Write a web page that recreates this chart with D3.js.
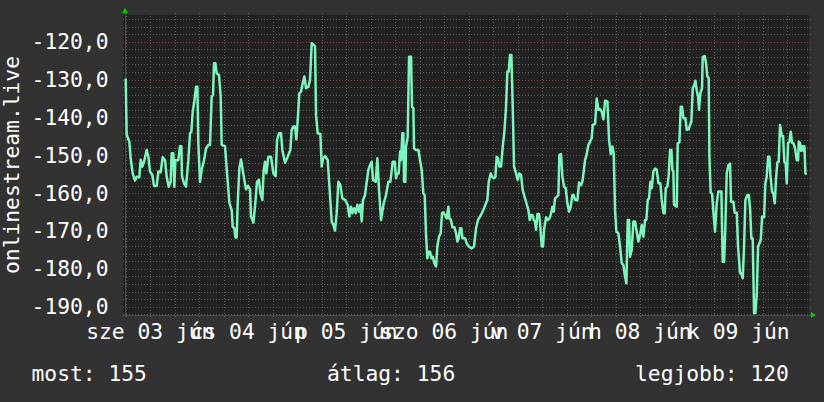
<!DOCTYPE html>
<html>
<head>
<meta charset="utf-8">
<script src="https://cdn.jsdelivr.net/npm/d3@7"></script>
<style>
  body { margin: 0; background: #323232; }
  svg { display: block; }
  text { font-family: "DejaVu Sans Mono", monospace; fill: #ffffff; }
</style>
</head>
<body>
<div id="chart"></div>
<script>
// Graph size
var width = 824;
var height = 402;

// hours since 2020-06-03 00:00 and measured values
var hours = [
  5.97, 6.21, 6.86, 7.19, 7.68, 8.25, 8.66, 9.31, 9.64, 10.05, 10.46, 11.11, 11.52, 11.93, 12.50,
  12.91, 13.56, 13.97, 14.54, 15.03, 15.60, 16.01, 16.50, 16.99, 17.23, 17.64, 17.88, 18.13, 18.86,
  19.27, 19.60, 19.76, 20.25, 20.74, 21.31, 21.72, 22.05, 22.38, 22.78, 23.19, 23.52, 23.76, 24.17,
  24.58, 25.15, 25.64, 26.21, 26.62, 27.03, 27.36, 27.60, 27.93, 28.25, 28.82, 29.23, 29.48, 30.29,
  30.86, 31.35, 31.93, 32.17, 32.58, 32.82, 33.15, 33.40, 33.80, 34.21, 34.62, 34.95, 35.44, 35.93,
  36.42, 36.66, 37.23, 37.64,
  38.13, 38.62, 38.95, 39.44, 39.77, 40.09, 40.42, 40.91, 41.56, 42.13, 42.70, 43.03, 43.52, 44.01,
  44.33, 44.99, 45.64, 46.29, 46.62, 47.03, 47.44, 47.76, 48.09, 48.50, 48.91, 49.32, 49.72, 50.13,
  50.70, 51.11, 51.52, 52.01, 52.34, 52.58, 52.99, 53.64, 53.97, 54.29, 54.78, 55.44, 55.84, 56.42,
  56.82, 57.23, 57.64, 58.05, 58.54, 59.03, 59.68, 60.34, 60.74, 61.15, 61.48, 61.89, 62.30, 62.70,
  63.11, 63.44, 63.76, 64.09, 64.58, 64.99, 65.40, 65.80, 66.21, 66.54, 67.19, 67.60, 68.01, 68.50,
  68.83, 69.15, 69.72, 70.29, 70.78,
  71.36, 71.85, 72.17, 72.50, 72.83, 73.15, 73.40, 73.72, 73.97, 74.13, 74.46, 74.62, 75.03, 75.36,
  75.85, 76.09, 76.42, 76.58, 77.07, 77.64, 78.05, 78.46, 78.86, 79.19, 79.52, 79.84, 80.17, 80.50,
  80.82, 81.15, 81.56, 81.97, 82.29, 82.70, 83.11, 83.44, 83.76, 84.17, 84.58, 84.99, 85.23, 85.64,
  85.97, 86.46, 86.87, 87.19, 87.52, 87.85, 88.17, 88.42, 89.07, 89.48, 89.97, 90.70, 91.27, 91.76,
  92.25, 92.74, 93.23, 93.72, 94.21, 94.54, 94.87, 95.36, 95.68, 96.09, 96.50, 96.82, 97.15, 97.48,
  97.89, 98.30, 98.70, 99.11, 99.44, 99.77, 100.09, 100.42, 100.75, 101.07, 101.56, 101.97, 102.38,
  102.79, 103.19, 103.52, 104.01, 104.58,
  104.91, 105.23, 105.56, 105.89, 106.21, 106.46, 106.78, 107.19, 107.44, 107.85, 108.17, 108.42,
  108.91, 109.32, 109.72, 110.05, 110.46, 110.79, 111.11, 111.52, 111.93, 112.17, 112.58, 112.91,
  113.32, 113.73, 114.13, 114.54, 114.95, 115.36, 115.68, 116.01, 116.58, 116.99, 117.48, 117.81,
  118.13, 118.46, 118.87, 119.27, 119.68, 120.09, 120.34, 120.91, 121.32, 121.73, 122.13, 122.54,
  122.95, 123.36, 123.93, 124.34, 124.75, 125.15, 125.48, 125.81, 126.13, 126.62, 127.03, 127.44,
  127.85, 128.25, 128.58, 128.91, 129.23, 129.48, 129.89, 130.29, 130.70, 131.11, 131.52, 131.93,
  132.34, 132.74, 133.15, 133.48, 133.81, 134.13, 134.46, 134.79, 135.19, 135.60, 136.01, 136.42,
  136.91,
  137.24, 137.64, 137.97, 138.21, 138.62, 138.95, 139.28, 139.60, 139.85, 140.09, 140.25, 140.91,
  141.15, 141.56, 141.89, 142.21, 142.54, 143.03, 143.36, 143.85, 144.17, 144.50, 144.83, 145.23,
  145.48, 145.80, 146.13, 146.38, 146.70, 147.11, 147.27, 147.76, 148.09, 148.41, 148.74, 148.91,
  149.23, 149.56, 149.89, 150.29, 150.70, 151.11, 151.85, 152.17, 152.50, 152.82, 153.15, 153.56,
  153.97, 154.21, 154.78, 155.11, 155.60, 155.93, 156.42, 156.74, 157.07, 157.40, 157.72, 158.21,
  158.54, 158.87, 159.19, 159.52, 159.85, 160.17, 160.50, 160.83, 161.15, 161.48, 161.81, 162.30,
  162.62, 162.95, 163.28, 163.60, 163.85, 164.25, 164.58, 164.91, 165.23, 165.56, 165.89, 166.21,
  166.62, 166.95, 167.27, 167.60, 167.85, 168.17, 168.50, 168.83, 169.16, 169.48, 169.89, 170.30,
  170.63, 170.79, 171.11, 171.36, 171.60, 171.93, 172.17, 172.42, 172.75
];
var values = [
  -129.7, -144.6, -146.4, -150.8, -154.8, -156.7, -155.7, -155.8, -151.2, -153.0, -151.7, -148.6, -150.4, -154.3, -155.2,
  -158.1, -158.1, -154.3, -154.5, -150.5, -151.3, -155.7, -158.3, -157.0, -149.5, -149.5, -158.3, -151.3, -151.3,
  -147.6, -147.6, -155.5, -157.4, -158.3, -151.3, -144.2, -143.8, -138.5, -135.8, -131.9, -131.9, -146.8, -157.0,
  -153.9, -151.3, -148.2, -147.3, -147.3, -134.5, -134.1, -125.7, -125.7, -128.4, -128.8, -134.5, -147.3, -147.6,
  -155.7, -162.5, -164.5, -168.9, -169.3, -171.7, -171.7, -162.7, -153.5, -151.1, -153.9, -156.1, -159.0, -158.1,
  -159.0, -166.2, -167.8, -163.6,
  -157.0, -156.5, -160.0, -161.8, -153.9, -151.7, -154.8, -150.4, -150.4, -154.8, -155.5, -146.0, -144.2, -144.2,
  -148.6, -152.0, -150.4, -148.6, -143.3, -142.4, -142.4, -145.8, -140.7, -133.6, -133.2, -131.0, -129.2, -132.3,
  -131.9, -130.1, -120.4, -120.8, -121.3, -139.4, -144.2, -144.4, -153.0, -150.8, -150.2, -151.3, -157.9, -167.5,
  -168.4, -169.9, -165.3, -157.0, -157.9, -161.4, -161.8, -163.1, -166.2, -163.6, -165.3, -164.0, -165.3, -163.1,
  -164.9, -163.1, -167.5, -161.8, -160.5, -157.0, -153.9, -152.6, -151.7, -156.5, -157.0, -150.8, -159.2, -167.1,
  -164.9, -162.7, -160.5, -157.0, -157.0,
  -151.7, -151.7, -156.1, -154.8, -154.8, -149.0, -151.3, -144.2, -144.2, -157.0, -157.0, -147.7, -145.1, -124.0,
  -124.0, -137.2, -137.6, -148.2, -148.6, -148.6, -151.3, -153.9, -160.1, -160.5, -171.1, -177.2, -175.5, -175.5,
  -177.2, -176.8, -178.5, -179.4, -174.1, -171.5, -170.6, -165.3, -165.1, -165.8, -166.7, -163.6, -166.7, -167.1,
  -169.0, -169.0, -170.6, -172.8, -171.9, -169.3, -169.3, -171.9, -171.9, -173.3, -174.1, -174.6, -174.1, -169.3,
  -167.1, -166.2, -165.2, -164.0, -162.7, -161.8, -157.0, -154.8, -155.7, -156.1, -155.7, -150.4, -150.8, -153.0,
  -153.0, -147.7, -143.8, -137.2, -127.9, -127.9, -123.5, -123.5, -137.2, -153.0, -154.8, -156.5, -154.8,
  -155.2, -159.2, -160.5, -162.3, -164.5,
  -167.1, -165.8, -165.8, -167.1, -167.5, -169.7, -165.5, -165.5, -168.0, -174.1, -174.1, -169.6,
  -166.4, -167.1, -166.7, -165.8, -163.6, -164.9, -161.4, -161.0, -160.5, -149.9, -149.7, -155.7,
  -158.3, -158.7, -162.7, -164.9, -163.6, -160.5, -160.5, -161.8, -161.9, -157.2, -157.9, -157.0,
  -154.3, -151.3, -149.7, -147.3, -146.4, -145.5, -142.0, -141.7, -135.0, -138.0, -137.8, -138.5,
  -140.5, -135.6, -135.8, -146.0, -149.7, -147.7, -149.5, -164.5, -170.2, -170.6, -174.1, -178.5,
  -179.0, -182.1, -183.8, -167.1, -167.1, -176.8, -175.0, -167.5, -167.5, -170.2, -172.8, -171.1,
  -168.4, -171.5, -167.1, -167.1, -161.8, -161.4, -157.0, -158.7, -154.3, -153.5, -153.8, -157.4,
  -157.4,
  -161.8, -165.3, -165.3, -158.7, -158.3, -155.2, -148.6, -148.6, -153.9, -154.3, -163.1, -163.6,
  -146.8, -146.6, -137.2, -137.2, -140.2, -140.2, -143.3, -143.1, -142.0, -141.1, -132.3, -131.4,
  -130.3, -132.8, -134.5, -138.0, -133.6, -132.3, -124.0, -123.8, -125.7, -129.2, -129.6, -150.4,
  -159.9, -160.1, -164.9, -170.2, -162.7, -159.6, -159.6, -178.1, -178.1, -168.9, -154.8, -152.6,
  -152.2, -162.3, -162.3, -165.2, -165.2, -174.1, -181.2, -181.2, -182.5, -174.1, -161.8, -160.5,
  -160.5, -164.0, -172.0, -172.0, -191.7, -191.7, -186.9, -174.1, -173.3, -172.4, -166.2, -166.4,
  -157.4, -155.7, -150.4, -150.4, -155.2, -159.6, -160.1, -162.7, -156.1, -151.9, -151.7, -142.0,
  -144.9, -144.9, -151.7, -152.2, -157.4, -146.8, -146.4, -143.8, -146.7, -146.8, -148.2, -151.3,
  -151.3, -146.4, -146.8, -148.8, -147.6, -148.8, -147.6, -154.8, -155.0
];

var yTicks = [-190, -180, -170, -160, -150, -140, -130, -120];
var yTitle = "onlinestream.live";
var legendLabels = ["most:", "átlag:", "legjobb:"];
var legendValues = [155, 156, 120];

// Hungarian locale for the day labels
var huTime = d3.timeFormatLocale({
  dateTime: "%Y. %B %-e. %X", date: "%Y. %m. %d.", time: "%H:%M:%S",
  periods: ["de.", "du."],
  days: ["vasárnap", "hétfő", "kedd", "szerda", "csütörtök", "péntek", "szombat"],
  shortDays: ["v", "h", "k", "sze", "cs", "p", "szo"],
  months: ["január", "február", "március", "április", "május", "június", "július", "augusztus", "szeptember", "október", "november", "december"],
  shortMonths: ["jan", "febr", "márc", "ápr", "máj", "jún", "júl", "aug", "szept", "okt", "nov", "dec"]
});
var dayFormat = huTime.format("%a %d %b");
var huNum = d3.formatLocale({ decimal: ",", thousands: " ", grouping: [3], currency: ["", " Ft"], minus: "-" });
var yFormat = huNum.format(".1f");

var day0 = new Date(2020, 5, 3);
function hourToDate(h) { return new Date(day0.getTime() + h * 3600e3); }

var data = hours.map(function(h, i) { return { t: hourToDate(h), v: values[i] }; });

var svg = d3.select("#chart")
  .append("svg")
  .attr("width", width)
  .attr("height", height);

svg.append("rect").attr("width", width).attr("height", height).attr("fill", "#323232");

// plot box in pixels (window.top is reserved, so prefixed names)
var plotL = 125, plotR = 809, plotT = 15, plotB = 315;

var x = d3.scaleTime()
  .domain([hourToDate(5.8), hourToDate(173.3)])
  .range([plotL, plotR]);

var y = d3.scaleLinear()
  .domain([-192.2, -112.95])
  .range([plotB, plotT]);

// plot background
svg.append("rect")
  .attr("x", plotL - 2).attr("y", plotT)
  .attr("width", plotR - plotL + 2).attr("height", plotB - plotT + 1)
  .attr("fill", "#222222");

// horizontal grid, minor every 2, major every 10
var hGrid = d3.range(-192, -112, 2);
svg.append("g").selectAll("line")
  .data(hGrid)
  .enter().append("line")
  .attr("x1", plotL - 2).attr("x2", plotR + 2)
  .attr("y1", function(d) { return Math.round(y(d)) + 0.5; })
  .attr("y2", function(d) { return Math.round(y(d)) + 0.5; })
  .attr("stroke", function(d) { return d % 10 === 0 ? "#8c3a3a" : "#5c5c5c"; })
  .attr("stroke-dasharray", "1,2");

// vertical grid, minor every 6 h, major at midnight
var vGrid = d3.timeHour.every(6).range(x.domain()[0], x.domain()[1]);
svg.append("g").selectAll("line")
  .data(vGrid)
  .enter().append("line")
  .attr("x1", function(d) { return Math.round(x(d)) + 0.5; })
  .attr("x2", function(d) { return Math.round(x(d)) + 0.5; })
  .attr("y1", plotT - 2).attr("y2", plotB + 3)
  .attr("stroke", function(d) { return d.getHours() === 0 ? "#8c3a3a" : "#5c5c5c"; })
  .attr("stroke-dasharray", "1,2");

// axis lines
svg.append("line")
  .attr("x1", plotL + 0.5).attr("x2", plotL + 0.5).attr("y1", plotT - 2).attr("y2", plotB + 2)
  .attr("stroke", "#4a4a4a");
svg.append("line")
  .attr("x1", plotL - 2).attr("x2", plotR + 4).attr("y1", plotB + 0.5).attr("y2", plotB + 0.5)
  .attr("stroke", "#4a4a4a");

// arrows
svg.append("path")
  .attr("d", "M" + (plotL - 3) + "," + (plotT - 2) + "L" + (plotL + 3) + "," + (plotT - 2) + "L" + plotL + "," + (plotT - 7) + "Z")
  .attr("fill", "#00d000");
svg.append("path")
  .attr("d", "M" + (plotR + 2) + "," + (plotB - 3) + "L" + (plotR + 2) + "," + (plotB + 3) + "L" + (plotR + 7) + "," + plotB + "Z")
  .attr("fill", "#00d000");

// data line
var line = d3.line()
  .x(function(d) { return x(d.t); })
  .y(function(d) { return y(d.v); });

svg.append("path")
  .datum(data)
  .attr("d", line)
  .attr("fill", "none")
  .attr("stroke", "#7ef5bc")
  .attr("stroke-width", 2.5)
  .attr("stroke-linejoin", "round");

// y labels
svg.append("g").selectAll("text")
  .data(yTicks)
  .enter().append("text")
  .attr("x", 108.5)
  .attr("y", function(d) { return y(d) + 7.5; })
  .attr("text-anchor", "end")
  .style("font-size", "21.3px")
  .text(function(d) { return yFormat(d); });

// x labels centred at noon, only days whose noon is on the graph
var days = d3.timeDay.range(d3.timeDay.floor(x.domain()[0]), x.domain()[1])
  .filter(function(d) { return d3.timeHour.offset(d, 12) <= x.domain()[1]; });
svg.append("g").selectAll("text")
  .data(days)
  .enter().append("text")
  .attr("x", function(d) { return x(d3.timeHour.offset(d, 12)); })
  .attr("y", 339)
  .attr("text-anchor", "middle")
  .style("font-size", "21.3px")
  .text(function(d) { return dayFormat(d); });

// y title
svg.append("text")
  .attr("transform", "translate(19,165) rotate(-90)")
  .attr("text-anchor", "middle")
  .style("font-size", "21.3px")
  .text(yTitle);

// legend
var legendX = [31.5, 327, 635];
svg.append("g").selectAll("text")
  .data(legendLabels)
  .enter().append("text")
  .attr("x", function(d, i) { return legendX[i]; })
  .attr("y", 381)
  .style("font-size", "21.3px")
  .text(function(d, i) { return d + " " + legendValues[i]; });
</script>
</body>
</html>
